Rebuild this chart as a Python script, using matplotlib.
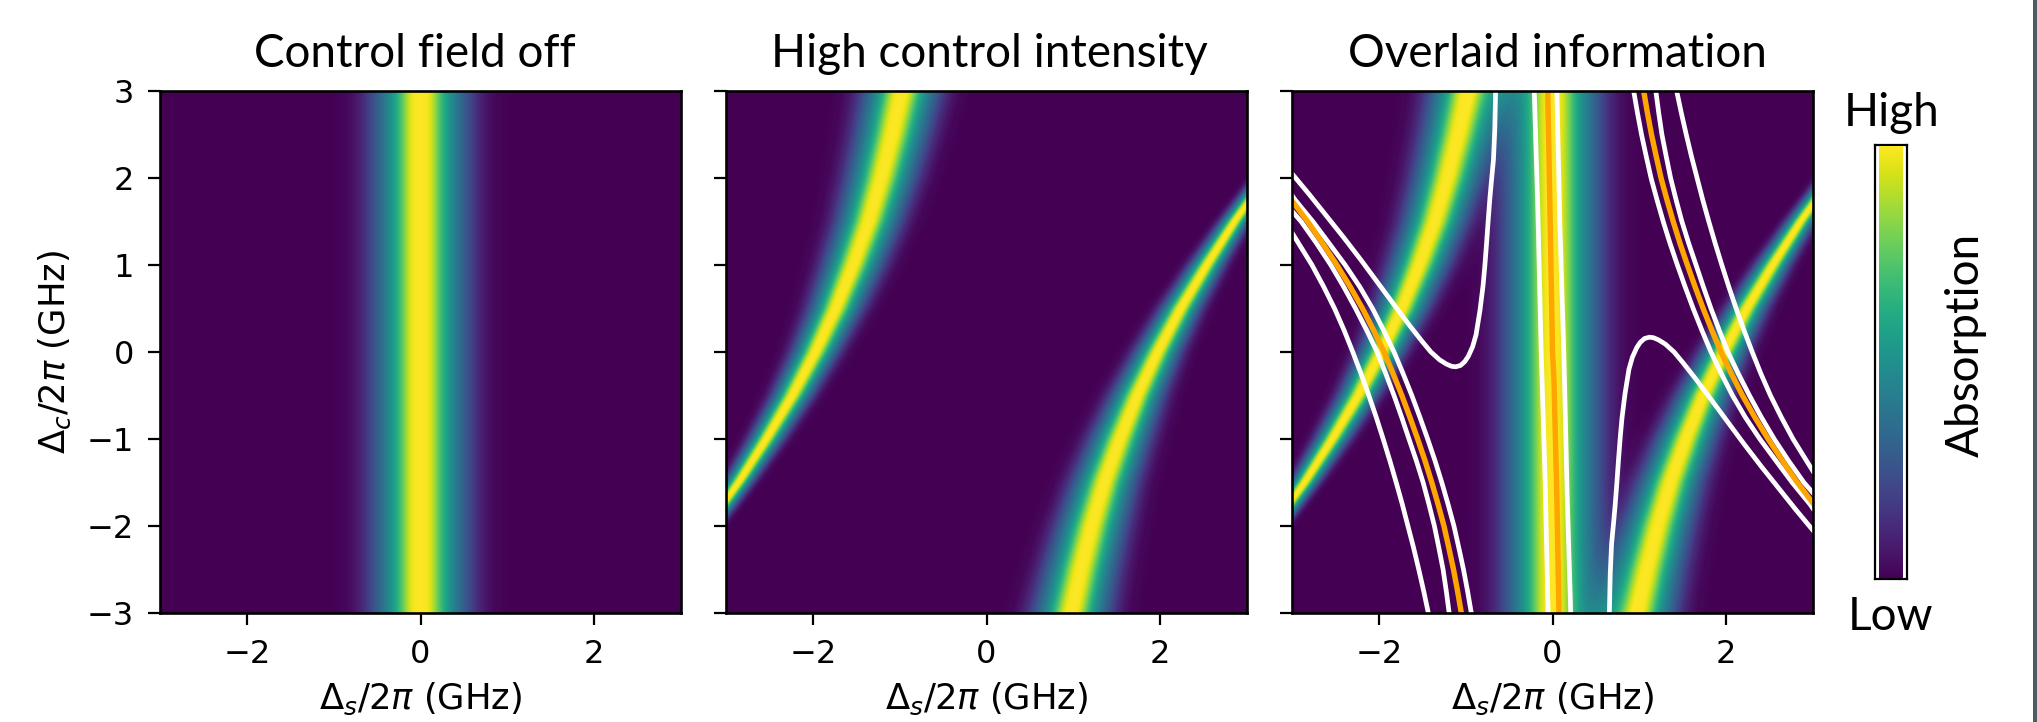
import numpy as np
import matplotlib
matplotlib.use('Agg')
import matplotlib.pyplot as plt
from matplotlib.patches import Rectangle

W, H = 2037, 722
TITLES = ['Control field off', 'High control intensity', 'Overlaid information']
XTICKS = [-2, 0, 2]
YTICKS = [-3, -2, -1, 0, 1, 2, 3]
GILL = ['Lato', 'DejaVu Sans']

# ridge tables, one entry per control detuning
DC_LEVELS = [-3, -2.5, -2, -1.5, -1, -0.5, 0, 0.5, 1, 1.5, 2, 2.5, 3]
LEFT_CENTER = [-3.98, -3.59, -3.215, -2.86, -2.54, -2.24, -1.975, -1.74, -1.54, -1.36, -1.215, -1.09, -0.98]
LEFT_WIDTH = [0.20, 0.23, 0.26, 0.30, 0.36, 0.42, 0.48, 0.55, 0.62, 0.67, 0.72, 0.76, 0.80]
RIGHT_CENTER = [0.98, 1.09, 1.215, 1.36, 1.54, 1.74, 1.975, 2.24, 2.54, 2.86, 3.215, 3.59, 3.98]
RIGHT_WIDTH = [0.80, 0.76, 0.72, 0.67, 0.62, 0.55, 0.48, 0.42, 0.36, 0.30, 0.26, 0.23, 0.20]
MID_CENTER = [0, 0, 0, 0, 0, 0, 0, 0, 0, 0, 0, 0, 0]
MID_WIDTH = [1, 1, 1, 1, 1, 1, 1, 1, 1, 1, 1, 1, 1]

# absorption against distance from the ridge centre (panel 1 cross section)
PROFILE_D = [0, 0.08, 0.12, 0.16, 0.20, 0.26, 0.33, 0.40, 0.50, 0.57, 0.65, 0.75, 0.85, 1.00, 1.10]
PROFILE_V = [1.0, 0.985, 0.94, 0.86, 0.77, 0.64, 0.52, 0.42, 0.30, 0.22, 0.13, 0.06, 0.02, 0.005, 0.0]

# overlaid curves in panel 3
A_LEFT_X = [-3.0, -2.8, -2.6, -2.4, -2.2, -2.0, -1.8, -1.65, -1.5, -1.4, -1.3, -1.22, -1.16, -1.115, -1.06, -1.01,
            -0.97, -0.92, -0.88, -0.835, -0.80, -0.78, -0.76, -0.74, -0.72, -0.70, -0.68, -0.665, -0.655]
A_LEFT_Y = [2.05, 1.81, 1.56, 1.31, 1.05, 0.78, 0.51, 0.31, 0.12, 0.0, -0.09, -0.14, -0.165, -0.17, -0.155, -0.11,
            -0.05, 0.06, 0.2, 0.48, 0.76, 0.98, 1.24, 1.52, 1.78, 2.0, 2.21, 2.55, 3.0]
A_RIGHT_X = [0.655, 0.665, 0.68, 0.70, 0.72, 0.74, 0.76, 0.78, 0.80, 0.835, 0.88, 0.92, 0.97, 1.01, 1.06, 1.115,
             1.16, 1.22, 1.3, 1.4, 1.5, 1.65, 1.8, 2.0, 2.2, 2.4, 2.6, 2.8, 3.0]
A_RIGHT_Y = [-3.0, -2.55, -2.21, -2.0, -1.78, -1.52, -1.24, -0.98, -0.76, -0.48, -0.2, -0.06, 0.05, 0.11, 0.155, 0.17,
             0.165, 0.14, 0.09, 0.0, -0.12, -0.31, -0.51, -0.78, -1.05, -1.31, -1.56, -1.81, -2.05]

# these curves share detuning levels, x is read at each level
CURVE_Y_LEFT = [-3, -2.75, -2.5, -2.25, -2, -1.75, -1.5, -1.25, -1, -0.75, -0.5, -0.25, 0, 0.25, 0.5, 0.75, 1, 1.25, 1.5]
CURVE_Y_RIGHT = [-1.5, -1.25, -1, -0.75, -0.5, -0.25, 0, 0.25, 0.5, 0.75, 1, 1.25, 1.5, 1.75, 2, 2.25, 2.5, 2.75, 3]

ORANGE_LEFT_X = [-1.05, -1.093, -1.14, -1.194, -1.25, -1.318, -1.39, -1.468, -1.553, -1.642, -1.735, -1.835, -1.94,
                 -2.06, -2.188, -2.33, -2.483, -2.648, -2.82, -3.01]
ORANGE_LEFT_Y = CURVE_Y_LEFT + [1.75]
ORANGE_RIGHT_X = [3.01, 2.82, 2.648, 2.483, 2.33, 2.188, 2.06, 1.94, 1.835, 1.735, 1.642, 1.553, 1.468, 1.39, 1.318,
                  1.25, 1.194, 1.14, 1.093, 1.05]
ORANGE_RIGHT_Y = [-1.75] + CURVE_Y_RIGHT

B_LEFT_X = [-0.935, -0.978, -1.025, -1.079, -1.135, -1.203, -1.275, -1.353, -1.438, -1.527, -1.62, -1.72, -1.825,
            -1.945, -2.073, -2.22, -2.388, -2.573, -2.76, -2.965, -3.0]
B_LEFT_Y = CURVE_Y_LEFT + [1.75, 1.8]
B_RIGHT_X = [3.0, 2.965, 2.76, 2.573, 2.388, 2.22, 2.073, 1.945, 1.825, 1.72, 1.62, 1.527, 1.438, 1.353, 1.275, 1.203,
             1.135, 1.079, 1.025, 0.978, 0.935]
B_RIGHT_Y = [-1.8, -1.75] + CURVE_Y_RIGHT

C_LEFT_X = [-1.19, -1.223, -1.26, -1.309, -1.36, -1.423, -1.49, -1.568, -1.653, -1.737, -1.825, -1.92, -2.02, -2.14,
            -2.268, -2.405, -2.553, -2.718, -2.895, -3.0]
C_LEFT_Y = CURVE_Y_LEFT + [1.62]
C_RIGHT_X = [3.0, 2.895, 2.718, 2.553, 2.405, 2.268, 2.14, 2.02, 1.92, 1.825, 1.737, 1.653, 1.568, 1.49, 1.423, 1.36,
             1.309, 1.26, 1.223, 1.19]
C_RIGHT_Y = [-1.62] + CURVE_Y_RIGHT

D_LEFT_X = [-1.43, -1.483, -1.54, -1.60, -1.665, -1.73, -1.80, -1.873, -1.95, -2.03, -2.115, -2.205, -2.30, -2.40,
            -2.51, -2.635, -2.77, -2.925, -3.0]
D_LEFT_Y = CURVE_Y_LEFT[:-1] + [1.37]
D_RIGHT_X = [3.0, 2.925, 2.77, 2.635, 2.51, 2.40, 2.30, 2.205, 2.115, 2.03, 1.95, 1.873, 1.80, 1.73, 1.665, 1.60, 1.54,
             1.483, 1.43]
D_RIGHT_Y = [-1.37] + CURVE_Y_RIGHT[1:]

MID_L_X = [-0.21, -0.17, -0.13, -0.12, -0.085, -0.05]
MID_L_Y = [3.0, 1.69, 0.0, -0.32, -1.47, -3.0]
MID_R_X = [0.05, 0.085, 0.12, 0.13, 0.17, 0.21]
MID_R_Y = [3.0, 1.47, 0.32, 0.0, -1.69, -3.0]
ORANGE_MID_X = [-0.055, -0.03, 0.0, 0.017, 0.05, 0.075]
ORANGE_MID_Y = [3.0, 1.69, 0.0, -0.32, -1.66, -3.0]

WHITE_LINES = [(A_LEFT_X, A_LEFT_Y), (A_RIGHT_X, A_RIGHT_Y), (B_LEFT_X, B_LEFT_Y), (B_RIGHT_X, B_RIGHT_Y),
               (C_LEFT_X, C_LEFT_Y), (C_RIGHT_X, C_RIGHT_Y), (D_LEFT_X, D_LEFT_Y), (D_RIGHT_X, D_RIGHT_Y),
               (MID_L_X, MID_L_Y), (MID_R_X, MID_R_Y)]
ORANGE_LINES = [(ORANGE_LEFT_X, ORANGE_LEFT_Y), (ORANGE_RIGHT_X, ORANGE_RIGHT_Y), (ORANGE_MID_X, ORANGE_MID_Y)]


def ridge(grid_x, grid_y, centers, widths):
    c = np.interp(grid_y, DC_LEVELS, centers)
    w = np.interp(grid_y, DC_LEVELS, widths)
    return np.interp(np.abs(grid_x - c) / w, PROFILE_D, PROFILE_V)


def px_axes(fig, x0, x1, y0, y1):
    return fig.add_axes([x0 / W, 1 - y1 / H, (x1 - x0) / W, (y1 - y0) / H])


xs = np.linspace(-3, 3, 521)
ys = np.linspace(-3, 3, 522)
grid_x, grid_y = np.meshgrid(xs, ys)

mid = ridge(grid_x, grid_y, MID_CENTER, MID_WIDTH)
sides = ridge(grid_x, grid_y, LEFT_CENTER, LEFT_WIDTH) + ridge(grid_x, grid_y, RIGHT_CENTER, RIGHT_WIDTH)
fields = [mid, sides, np.clip(mid + sides, 0, 1)]

fig = plt.figure(figsize=(W / 100, H / 100), dpi=100)
panel_left = [160, 726, 1292]
title_x = [0.49, 0.505, 0.51]

for i, (left, field, title) in enumerate(zip(panel_left, fields, TITLES)):
    ax = px_axes(fig, left, left + 521, 91, 613)
    im = ax.imshow(field, origin='lower', extent=[-3, 3, -3, 3], cmap='viridis', vmin=0, vmax=1,
                   aspect='auto', interpolation='bilinear')
    ax.set_xticks(XTICKS)
    ax.set_yticks(YTICKS)
    ax.tick_params(length=8.5, width=1.6, labelsize=23, pad=10)
    if i > 0:
        ax.set_yticklabels([])
    else:
        ax.set_ylabel(r'$\Delta_c/2\pi$ (GHz)', fontsize=25.5, labelpad=10)
    ax.set_xlabel(r'$\Delta_s/2\pi$ (GHz)', fontsize=25.5, labelpad=8)
    ax.set_title(title, fontsize=33, family=GILL, pad=17, x=title_x[i])
    for spine in ax.spines.values():
        spine.set_linewidth(1.9)
    if i == 2:
        for line_x, line_y in WHITE_LINES:
            ax.plot(line_x, line_y, color='white', lw=3.4)
        for line_x, line_y in ORANGE_LINES:
            ax.plot(line_x, line_y, color='orange', lw=3.9)
        ax.set_xlim(-3, 3)
        ax.set_ylim(-3, 3)

# colorbar: black frame with a white gap, gradient inside
frame = px_axes(fig, 1875, 1907, 145, 579)
frame.set_xticks([])
frame.set_yticks([])
for spine in frame.spines.values():
    spine.set_linewidth(1.6)
inner = px_axes(fig, 1879, 1903, 146, 578)
cbar = fig.colorbar(im, cax=inner)
cbar.set_ticks([])
cbar.outline.set_visible(False)

fig.text(1892 / W, 1 - 125.5 / H, 'High', fontsize=33, family=GILL, ha='center', va='baseline')
fig.text(1890 / W, 1 - 629.5 / H, 'Low', fontsize=33, family=GILL, ha='center', va='baseline')
fig.text(1966 / W, 1 - 345 / H, 'Absorption', fontsize=33, family=GILL, rotation=90, ha='center', va='center')

# dark edge of the original screenshot
fig.add_artist(Rectangle((2033 / W, 0), 4 / W, 1, transform=fig.transFigure, color='#4d5c64', lw=0))

fig.savefig('out.png', dpi=100)
